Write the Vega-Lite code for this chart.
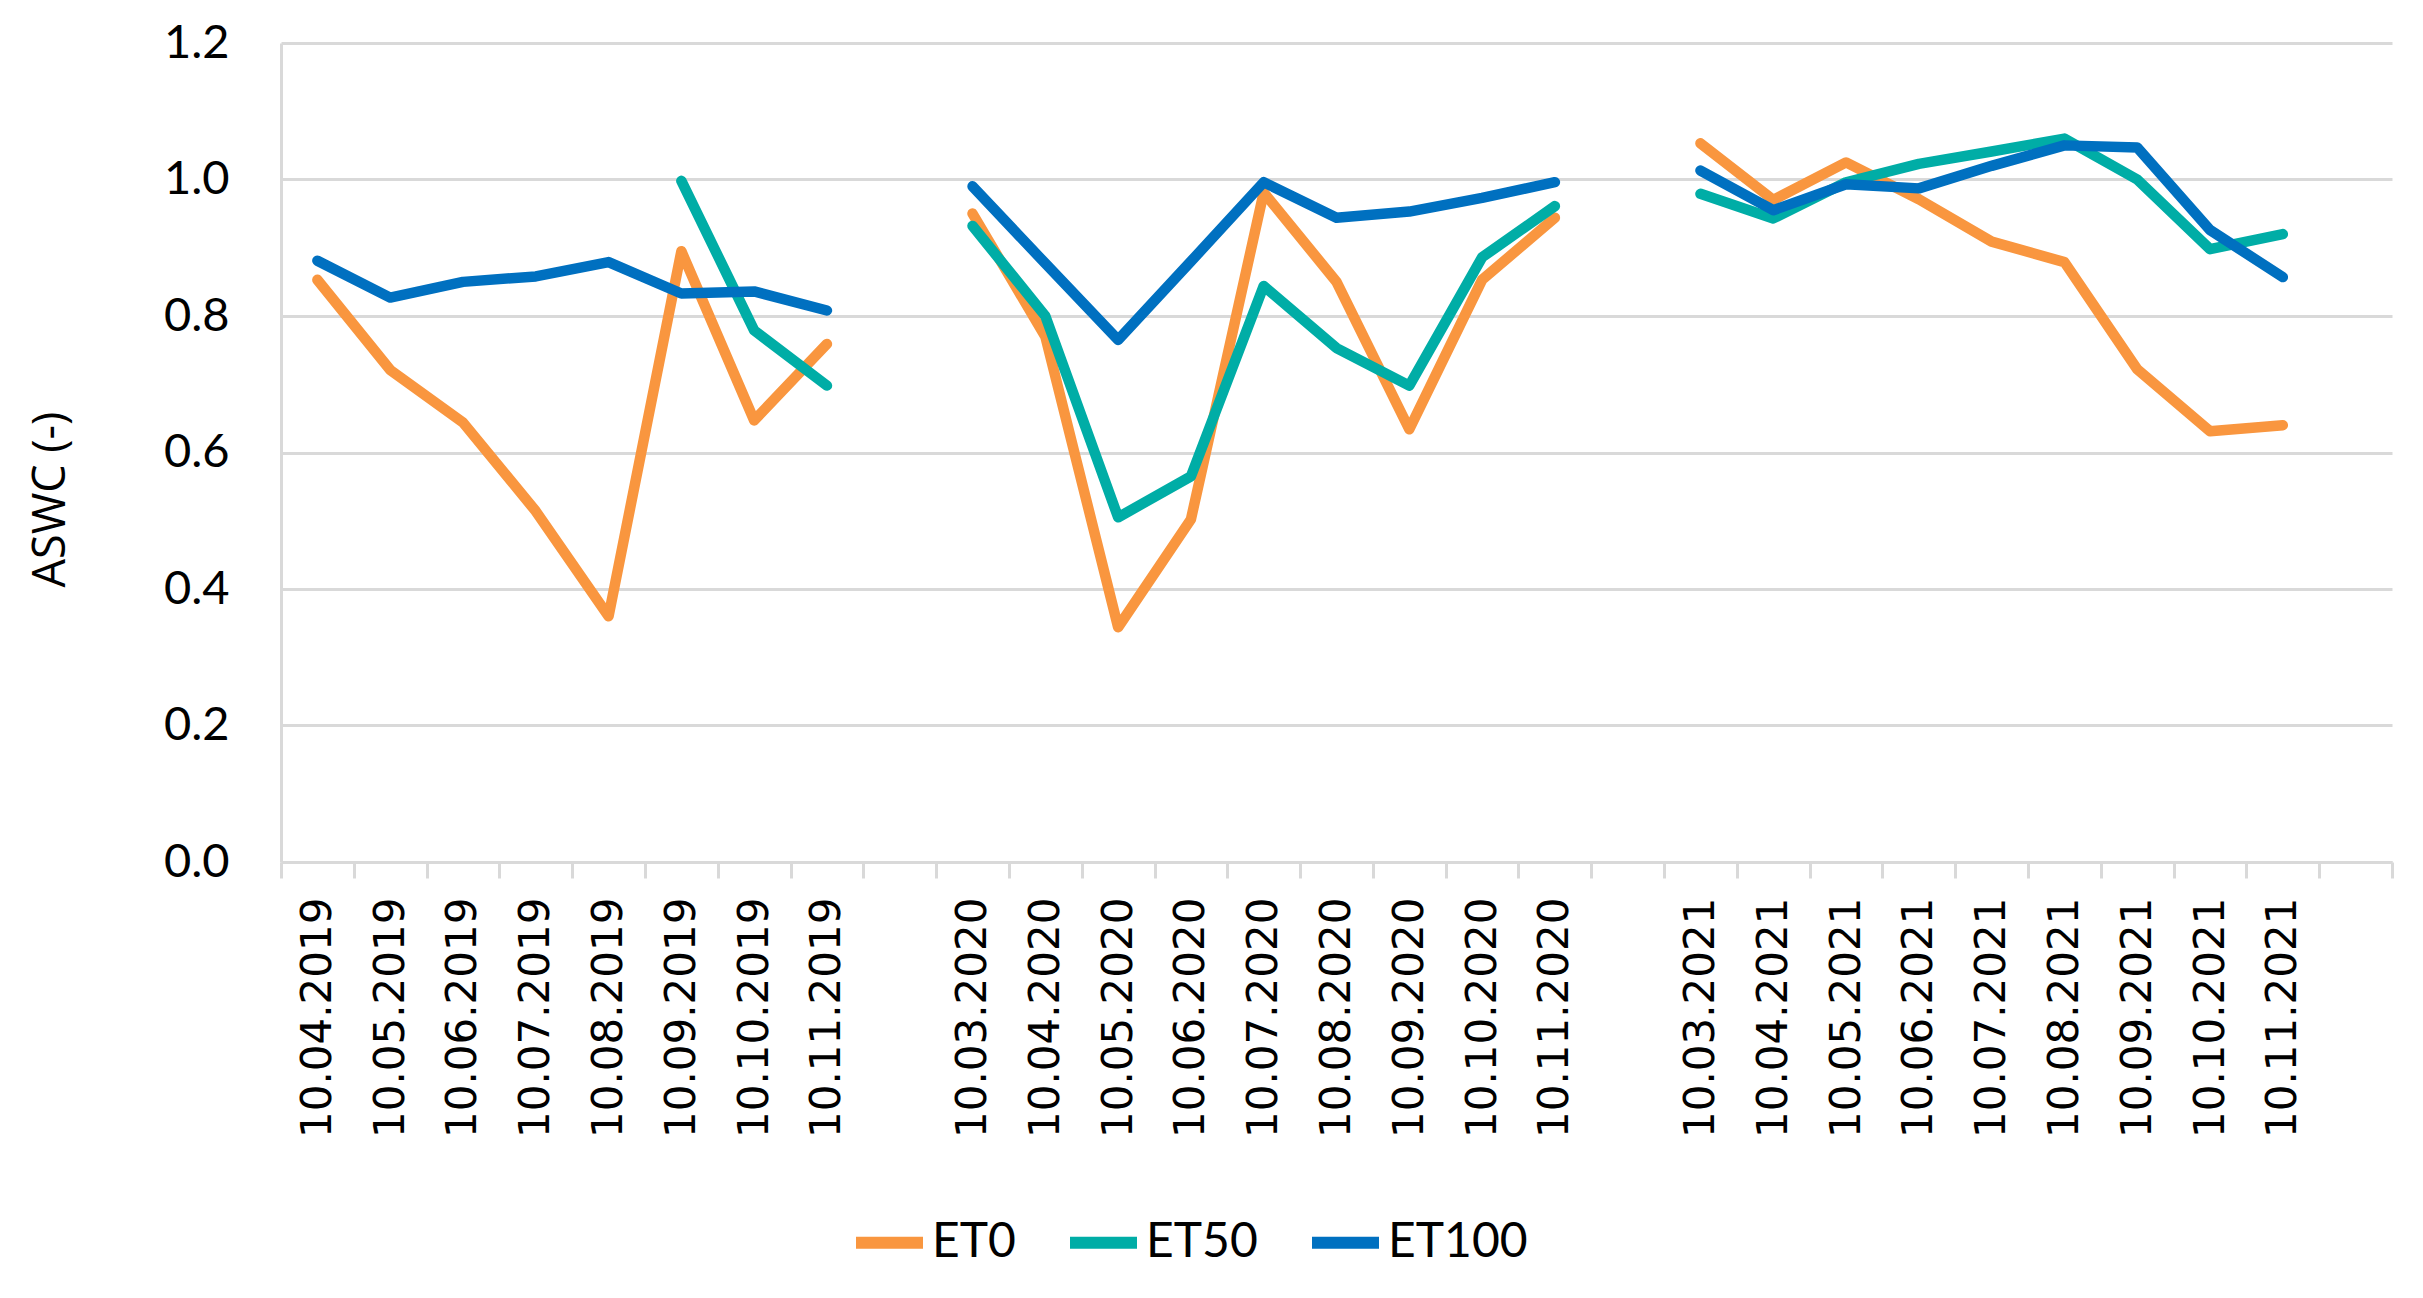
{
  "$schema": "https://vega.github.io/schema/vega-lite/v6.json",
  "autosize": {"type": "none"},
  "width": 2111,
  "height": 819,
  "padding": {"left": 281, "top": 43, "right": 31, "bottom": 436},
  "background": "white",
  "config": {
    "view": {"stroke": null},
    "axis": {"labelColor": "#000000", "titleColor": "#000000"}
  },
  "data": {
    "values": [
      {"date": "10.04.2019", "season": "2019", "series": "ET0", "value": 0.853},
      {"date": "10.05.2019", "season": "2019", "series": "ET0", "value": 0.721},
      {"date": "10.06.2019", "season": "2019", "series": "ET0", "value": 0.644},
      {"date": "10.07.2019", "season": "2019", "series": "ET0", "value": 0.514},
      {"date": "10.08.2019", "season": "2019", "series": "ET0", "value": 0.36},
      {"date": "10.09.2019", "season": "2019", "series": "ET0", "value": 0.895},
      {"date": "10.10.2019", "season": "2019", "series": "ET0", "value": 0.647},
      {"date": "10.11.2019", "season": "2019", "series": "ET0", "value": 0.759},
      {"date": "10.03.2020", "season": "2020", "series": "ET0", "value": 0.95},
      {"date": "10.04.2020", "season": "2020", "series": "ET0", "value": 0.77},
      {"date": "10.05.2020", "season": "2020", "series": "ET0", "value": 0.344},
      {"date": "10.06.2020", "season": "2020", "series": "ET0", "value": 0.502},
      {"date": "10.07.2020", "season": "2020", "series": "ET0", "value": 0.981},
      {"date": "10.08.2020", "season": "2020", "series": "ET0", "value": 0.85},
      {"date": "10.09.2020", "season": "2020", "series": "ET0", "value": 0.634},
      {"date": "10.10.2020", "season": "2020", "series": "ET0", "value": 0.853},
      {"date": "10.11.2020", "season": "2020", "series": "ET0", "value": 0.944},
      {"date": "10.03.2021", "season": "2021", "series": "ET0", "value": 1.053},
      {"date": "10.04.2021", "season": "2021", "series": "ET0", "value": 0.97},
      {"date": "10.05.2021", "season": "2021", "series": "ET0", "value": 1.025},
      {"date": "10.06.2021", "season": "2021", "series": "ET0", "value": 0.971},
      {"date": "10.07.2021", "season": "2021", "series": "ET0", "value": 0.909},
      {"date": "10.08.2021", "season": "2021", "series": "ET0", "value": 0.879},
      {"date": "10.09.2021", "season": "2021", "series": "ET0", "value": 0.722},
      {"date": "10.10.2021", "season": "2021", "series": "ET0", "value": 0.631},
      {"date": "10.11.2021", "season": "2021", "series": "ET0", "value": 0.64},

      {"date": "10.09.2019", "season": "2019", "series": "ET50", "value": 0.998},
      {"date": "10.10.2019", "season": "2019", "series": "ET50", "value": 0.779},
      {"date": "10.11.2019", "season": "2019", "series": "ET50", "value": 0.698},
      {"date": "10.03.2020", "season": "2020", "series": "ET50", "value": 0.932},
      {"date": "10.04.2020", "season": "2020", "series": "ET50", "value": 0.8},
      {"date": "10.05.2020", "season": "2020", "series": "ET50", "value": 0.505},
      {"date": "10.06.2020", "season": "2020", "series": "ET50", "value": 0.565},
      {"date": "10.07.2020", "season": "2020", "series": "ET50", "value": 0.844},
      {"date": "10.08.2020", "season": "2020", "series": "ET50", "value": 0.753},
      {"date": "10.09.2020", "season": "2020", "series": "ET50", "value": 0.698},
      {"date": "10.10.2020", "season": "2020", "series": "ET50", "value": 0.886},
      {"date": "10.11.2020", "season": "2020", "series": "ET50", "value": 0.961},
      {"date": "10.03.2021", "season": "2021", "series": "ET50", "value": 0.979},
      {"date": "10.04.2021", "season": "2021", "series": "ET50", "value": 0.943},
      {"date": "10.05.2021", "season": "2021", "series": "ET50", "value": 0.996},
      {"date": "10.06.2021", "season": "2021", "series": "ET50", "value": 1.023},
      {"date": "10.07.2021", "season": "2021", "series": "ET50", "value": 1.041},
      {"date": "10.08.2021", "season": "2021", "series": "ET50", "value": 1.06},
      {"date": "10.09.2021", "season": "2021", "series": "ET50", "value": 1.0},
      {"date": "10.10.2021", "season": "2021", "series": "ET50", "value": 0.898},
      {"date": "10.11.2021", "season": "2021", "series": "ET50", "value": 0.92},

      {"date": "10.04.2019", "season": "2019", "series": "ET100", "value": 0.881},
      {"date": "10.05.2019", "season": "2019", "series": "ET100", "value": 0.827},
      {"date": "10.06.2019", "season": "2019", "series": "ET100", "value": 0.85},
      {"date": "10.07.2019", "season": "2019", "series": "ET100", "value": 0.858},
      {"date": "10.08.2019", "season": "2019", "series": "ET100", "value": 0.879},
      {"date": "10.09.2019", "season": "2019", "series": "ET100", "value": 0.833},
      {"date": "10.10.2019", "season": "2019", "series": "ET100", "value": 0.836},
      {"date": "10.11.2019", "season": "2019", "series": "ET100", "value": 0.808},
      {"date": "10.03.2020", "season": "2020", "series": "ET100", "value": 0.99},
      {"date": "10.04.2020", "season": "2020", "series": "ET100", "value": 0.877},
      {"date": "10.05.2020", "season": "2020", "series": "ET100", "value": 0.765},
      {"date": "10.06.2020", "season": "2020", "series": "ET100", "value": 0.88},
      {"date": "10.07.2020", "season": "2020", "series": "ET100", "value": 0.996},
      {"date": "10.08.2020", "season": "2020", "series": "ET100", "value": 0.944},
      {"date": "10.09.2020", "season": "2020", "series": "ET100", "value": 0.953},
      {"date": "10.10.2020", "season": "2020", "series": "ET100", "value": 0.973},
      {"date": "10.11.2020", "season": "2020", "series": "ET100", "value": 0.996},
      {"date": "10.03.2021", "season": "2021", "series": "ET100", "value": 1.013},
      {"date": "10.04.2021", "season": "2021", "series": "ET100", "value": 0.955},
      {"date": "10.05.2021", "season": "2021", "series": "ET100", "value": 0.993},
      {"date": "10.06.2021", "season": "2021", "series": "ET100", "value": 0.987},
      {"date": "10.07.2021", "season": "2021", "series": "ET100", "value": 1.02},
      {"date": "10.08.2021", "season": "2021", "series": "ET100", "value": 1.05},
      {"date": "10.09.2021", "season": "2021", "series": "ET100", "value": 1.047},
      {"date": "10.10.2021", "season": "2021", "series": "ET100", "value": 0.926},
      {"date": "10.11.2021", "season": "2021", "series": "ET100", "value": 0.857}
    ]
  },
  "mark": {"type": "line", "strokeWidth": 10.5, "strokeJoin": "round", "strokeCap": "round"},
  "encoding": {
    "x": {
      "field": "date",
      "type": "nominal",
      "bandPosition": 0.5,
      "scale": {
        "type": "band",
        "paddingInner": 0,
        "paddingOuter": 0,
        "domain": [
          "10.04.2019", "10.05.2019", "10.06.2019", "10.07.2019", "10.08.2019", "10.09.2019", "10.10.2019", "10.11.2019",
          " ",
          "10.03.2020", "10.04.2020", "10.05.2020", "10.06.2020", "10.07.2020", "10.08.2020", "10.09.2020", "10.10.2020", "10.11.2020",
          "  ",
          "10.03.2021", "10.04.2021", "10.05.2021", "10.06.2021", "10.07.2021", "10.08.2021", "10.09.2021", "10.10.2021", "10.11.2021",
          "   "
        ]
      },
      "axis": {
        "title": null,
        "labelAngle": -90,
        "labelFont": "DejaVu Sans",
        "labelFontSize": 42,
        "labelPadding": 19,
        "labelLimit": 0,
        "labelOverlap": false,
        "labelBound": false,
        "labelFlush": false,
        "tickBand": "extent",
        "ticks": true,
        "tickSize": 16,
        "tickWidth": 3,
        "tickColor": "#D9D9D9",
        "domainColor": "#D9D9D9",
        "domainWidth": 3,
        "grid": false
      }
    },
    "y": {
      "field": "value",
      "type": "quantitative",
      "scale": {"domain": [0, 1.2], "nice": false, "zero": true},
      "axis": {
        "title": "ASWC (-)",
        "titleFont": "Open Sans",
        "titleFontSize": 45,
        "titleFontWeight": "normal",
        "titleAngle": 270,
        "titleAlign": "center",
        "titleBaseline": "middle",
        "titleX": -231,
        "titleY": 456,
        "values": [0, 0.2, 0.4, 0.6, 0.8, 1.0, 1.2],
        "format": ".1f",
        "labelFont": "Lato",
        "labelFontSize": 47,
        "labelPadding": 52,
        "ticks": false,
        "grid": true,
        "gridColor": "#D9D9D9",
        "gridWidth": 3,
        "domain": true,
        "domainColor": "#D9D9D9",
        "domainWidth": 3
      }
    },
    "color": {
      "field": "series",
      "type": "nominal",
      "scale": {"domain": ["ET0", "ET50", "ET100"], "range": ["#F9963F", "#00ADA6", "#0070C0"]},
      "legend": {
        "title": null,
        "orient": "none",
        "direction": "horizontal",
        "legendX": 569,
        "legendY": 1160,
        "symbolType": "stroke",
        "symbolSize": 4489,
        "symbolStrokeWidth": 12,
        "labelFont": "Lato",
        "labelFontSize": 48,
        "labelColor": "#000000",
        "labelOffset": 3,
        "columnPadding": 30,
        "symbolOffset": 0
      }
    },
    "detail": {"field": "season", "type": "nominal"}
  }
}
